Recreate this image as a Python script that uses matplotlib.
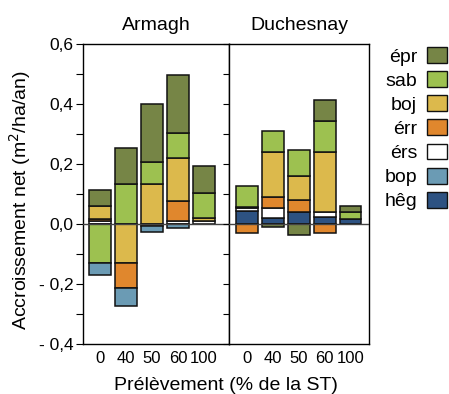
import numpy as np
import matplotlib.pyplot as plt
from matplotlib.patches import Patch

plt.rcParams['font.family'] = ['Liberation Sans', 'DejaVu Sans']

harvest = ['0', '40', '50', '60', '100']
species = ['épr', 'sab', 'boj', 'érr', 'érs', 'bop', 'hêg']
colors = ['#768546', '#9dc150', '#dcb94c', '#e0872d', '#ffffff', '#6b9bb4', '#2d5282']

# net growth (m2/ha/an) per species, order: 0, 40, 50, 60, 100 % harvest
armagh = {
    'épr': [0.053, 0.121, 0.193, 0.194, 0.090],
    'sab': [-0.131, 0.132, 0.073, 0.082, 0.083],
    'boj': [0.043, -0.131, 0.134, 0.143, 0.009],
    'érr': [0.008, -0.081, -0.006, 0.067, 0.0],
    'érs': [0.009, 0.0, 0.0, 0.010, 0.010],
    'bop': [-0.039, -0.062, -0.022, -0.012, 0.0],
    'hêg': [0.0, 0.0, 0.0, 0.0, 0.0],
}
duchesnay = {
    'épr': [0.0, -0.010, -0.038, 0.070, 0.020],
    'sab': [0.068, 0.071, 0.084, 0.102, 0.022],
    'boj': [0.005, 0.149, 0.080, 0.200, 0.0],
    'érr': [-0.030, 0.039, 0.041, -0.030, 0.0],
    'érs': [0.010, 0.031, 0.0, 0.019, 0.0],
    'bop': [0.0, 0.0, 0.0, 0.0, 0.0],
    'hêg': [0.042, 0.021, 0.040, 0.022, 0.018],
}

fig = plt.figure(figsize=(4.49, 3.94), dpi=100)
ax1 = fig.add_axes([83/449, 1-344/394, 146/449, 300/394])
ax2 = fig.add_axes([229/449, 1-344/394, 140/449, 300/394], sharey=ax1)


def draw(ax, data):
    x = np.arange(len(harvest))
    pos = np.zeros(len(harvest))
    neg = np.zeros(len(harvest))
    # positives stack up from hêg to épr, negatives stack down from épr to hêg
    for sp in species[::-1]:
        v = np.array(data[sp])
        c = colors[species.index(sp)]
        p = np.where(v > 0, v, 0)
        ax.bar(x[v > 0], p[v > 0], bottom=pos[v > 0], width=0.84,
               color=c, edgecolor='#111111', linewidth=1.1, zorder=2)
        pos += p
    for sp in species:
        v = np.array(data[sp])
        c = colors[species.index(sp)]
        n = np.where(v < 0, v, 0)
        ax.bar(x[v < 0], n[v < 0], bottom=neg[v < 0], width=0.84,
               color=c, edgecolor='#111111', linewidth=1.1, zorder=2)
        neg += n
    ax.axhline(0, color='#444444', linewidth=1, zorder=3)
    ax.set_xticks(x)
    ax.set_xticklabels(harvest, fontsize=12)
    ax.tick_params(axis='x', length=0, pad=5)


draw(ax1, armagh)
draw(ax2, duchesnay)
ax1.set_xlim(-0.65, 4.96)
ax2.set_xlim(-0.69, 4.71)

ax1.set_ylim(-0.4, 0.6)
yt = [-0.4, -0.2, 0.0, 0.2, 0.4, 0.6]
ax1.set_yticks(yt)
ax1.set_yticklabels(['- 0,4', '- 0,2', '0,0', '0,2', '0,4', '0,6'], fontsize=12.5)
ax1.set_yticks(np.arange(-0.4, 0.61, 0.1), minor=True)
ax1.tick_params(axis='y', which='both', length=5, width=0.8, direction='out', pad=2)
# ticks on the divider point into the Armagh panel
ax2.tick_params(axis='y', which='both', length=4, width=0.8, direction='out',
                left=True, labelleft=False)

for ax in (ax1, ax2):
    for s in ax.spines.values():
        s.set_linewidth(1)

ax1.set_title('Armagh', fontsize=14, pad=10)
ax2.set_title('Duchesnay', fontsize=14, pad=10)
ax1.set_ylabel('Accroissement net (m$^2$/ha/an)', fontsize=14)
ax1.yaxis.set_label_coords(-0.34, 0.48)
fig.text((83 + 369) / 2 / 449, 1 - 385/394, 'Prélèvement (% de la ST)',
         ha='center', va='center', fontsize=14)

handles = [Patch(facecolor=c, edgecolor='#111111', linewidth=1) for c in colors]
fig.legend(handles, species, loc='upper right', bbox_to_anchor=(1.013, 0.90),
           frameon=False, markerfirst=False, fontsize=14, handlelength=1.03,
           handleheight=0.88, labelspacing=0.28, handletextpad=0.5, borderaxespad=0)

fig.savefig('out.png', dpi=100)
